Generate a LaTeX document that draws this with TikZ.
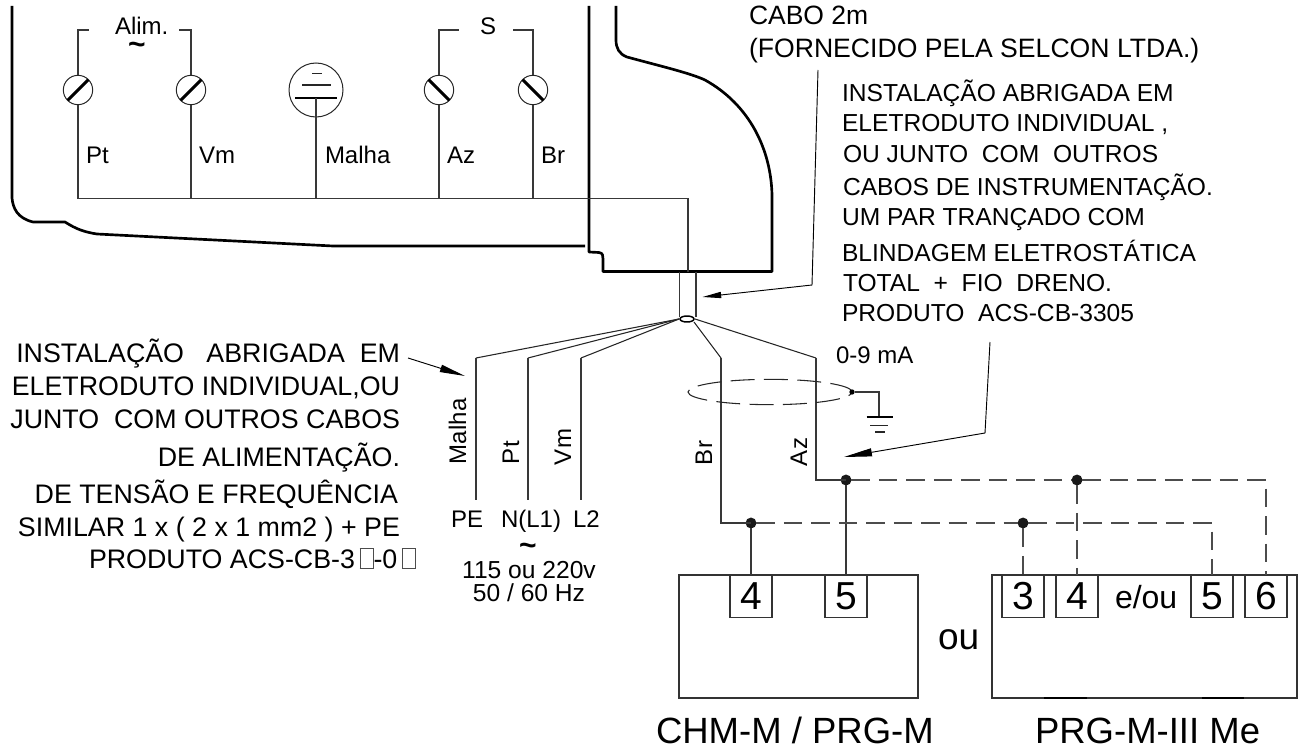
\documentclass[tikz,border=0pt]{standalone}
\usepackage{fontspec}
\setmainfont{Liberation Sans}
\usetikzlibrary{arrows.meta,shapes.geometric}
\newcommand{\fpx}[1]{\fontsize{\fpeval{#1*.75}}{\fpeval{#1*.9}}\selectfont}
\newcommand{\tofu}{{\color{black!70}\fboxsep=0pt\fboxrule=.5pt\fbox{\rule{0pt}{14.5pt}\rule{9.5pt}{0pt}}}}
\tikzset{
  txt/.style={font=\fpx{24},inner sep=0pt,outer sep=0pt,anchor=base west,text=black},
  txr/.style={txt,anchor=base east},
  rot/.style={txt,rotate=90},
  notel/.style={txr,font=\fpx{26.8}},
  noter/.style={txt,font=\fpx{24.6}},
  tild/.style={font=\fpx{30}\bfseries,inner sep=0pt,outer sep=0pt},
  wire/.style={draw=black!78,line width=1.05pt},
  thin wire/.style={draw=black!85,line width=.8pt},
  thick body/.style={draw=black,line width=2pt,line join=round},
  dash wire/.style={draw=black!70,line width=.95pt,dash pattern=on 13.9pt off 6.7pt},
  screw/.style={circle,draw=black!85,line width=.75pt,minimum size=22pt,inner sep=0pt,outer sep=0pt},
  slash/.style={draw=black,line width=2.2pt},
  dot/.style={circle,fill=black!90,minimum size=8.2pt,inner sep=0pt,outer sep=0pt},
  term/.style={draw=black!80,line width=.9pt,fill=white,minimum width=31.5pt,minimum height=32pt,inner sep=0pt,outer sep=0pt,font=\fpx{39}},
  unit/.style={draw=black!80,line width=.9pt,inner sep=0pt,outer sep=0pt},
  lead/.style={draw=black,line width=.7pt},
}
\begin{document}
\begin{tikzpicture}[x=.75pt,y=-.75pt]
\useasboundingbox (0,0) rectangle (1299,749);
% body outline
\draw[thick body] (12,6) -- (12,198) .. controls (13,208) and (17,218) .. (33,222) -- (65,222) .. controls (76,229) and (84,232) .. (97,234) -- (333,246) -- (585,246);
\draw[thick body] (589,6) -- (589,252) -- (599,252.5) .. controls (603,253) and (603,256) .. (603,259) -- (603,271.5) -- (772,271.5) -- (772,195)
 .. controls (771,150) and (750,105) .. (705,80) .. controls (690,73) and (660,66) .. (627,57) .. controls (619,54) and (616,48) .. (616,40) -- (616,6);
% screws
\node[screw] (sPt) at (78,90) {};
\node[screw] (sVm) at (191,90) {};
\node[screw] (sAz) at (439,90) {};
\node[screw] (sBr) at (533,90) {};
\node[circle,draw=black!85,line width=.75pt,minimum size=40.5pt,inner sep=0pt,outer sep=0pt] (sMa) at (316,90) {};
\draw[slash] (sPt.225) -- (sPt.45);
\draw[slash] (sVm.225) -- (sVm.45);
\draw[slash] (sAz.135) -- (sAz.315);
\draw[slash] (sBr.135) -- (sBr.315);
\coordinate (barL) at (295,98);
\coordinate (barR) at (337,98);
\coordinate (barC) at (316,98);
\coordinate (midL) at (302,85);
\coordinate (midR) at (331,85);
\coordinate (topL) at (312,73.5);
\coordinate (topR) at (322,73.5);
\draw[draw=black,line width=2.2pt] (barL) -- (barR);
\draw[thin wire] (midL) -- (midR);
\draw[thin wire] (topL) -- (topR);
% rail
\coordinate (rPt) at (78,198.5);
\coordinate (rVm) at (191,198.5);
\coordinate (rMa) at (316,198.5);
\coordinate (rAz) at (439,198.5);
\coordinate (rBr) at (533,198.5);
\coordinate (rEnd) at (688,198.5);
\coordinate (rDown) at (688,271.5);
\draw[wire] (sPt.south) -- (rPt) -- (rEnd) -- (rDown);
\draw[wire] (sVm.south) -- (rVm);
\draw[wire] (barC) -- (rMa);
\draw[wire] (sAz.south) -- (rAz);
\draw[wire] (sBr.south) -- (rBr);
% brackets
\coordinate (b1) at (89,30);\coordinate (b1c) at (78,30);
\coordinate (b2) at (179,30);\coordinate (b2c) at (191,30);
\coordinate (b3) at (459,30);\coordinate (b3c) at (439,30);
\coordinate (b4) at (513,30);\coordinate (b4c) at (533,30);
\draw[wire] (sPt.north) -- (b1c) -- (b1);
\draw[wire] (sVm.north) -- (b2c) -- (b2);
\draw[wire] (sAz.north) -- (b3c) -- (b3);
\draw[wire] (sBr.north) -- (b4c) -- (b4);
% top labels
\node[txt] (lAlim) at (115,35) {Alim.};
\node[tild] (lTil1) at (137,48.5) {\textasciitilde};
\node[txt] (lS) at (480,35) {S};
\node[txt] (lPt) at (86,163) {Pt};
\node[txt] (lVm) at (199,163) {Vm};
\node[txt] (lMa) at (325,163) {Malha};
\node[txt] (lAz) at (447,163) {Az};
\node[txt] (lBr) at (541,163) {Br};
% cable
\coordinate (c1t) at (679.5,271.5);\coordinate (c1b) at (679.5,317);
\coordinate (c2t) at (696,271.5);\coordinate (c2b) at (696,317);
\draw[wire] (c1t) -- (c1b);
\draw[wire] (c2t) -- (c2b);
\node[ellipse,draw=black,line width=1.1pt,minimum width=10.5pt,minimum height=4.5pt,inner sep=0pt,outer sep=0pt] at (687,319) (knot) {};
% fan out
\coordinate (kL) at (679,319);
\coordinate (kR) at (695,319);
\coordinate (kB) at (694,322);
\coordinate (m1) at (476,358);\coordinate (m1b) at (476,500);
\coordinate (m2) at (528,358);\coordinate (m2b) at (528,500);
\coordinate (m3) at (581,358);\coordinate (m3b) at (581,500);
\coordinate (brT) at (721,358);\coordinate (brC) at (721,523);
\coordinate (azT) at (816,358);\coordinate (azC) at (816,480);
\draw[thin wire] (kL) -- (m1); \draw[wire] (m1) -- (m1b);
\draw[thin wire] (kL) -- (m2); \draw[wire] (m2) -- (m2b);
\draw[thin wire] (kL) -- (m3); \draw[wire] (m3) -- (m3b);
% junctions and units
\node[unit,minimum width=179.25pt,minimum height=92.25pt] (unitA) at (798.5,636.5) {};
\node[unit,minimum width=228.75pt,minimum height=92.25pt] (unitB) at (1144.5,636.5) {};
\node[term] (tA4) at (751,596.5) {4};
\node[term] (tA5) at (846,596.5) {5};
\node[term] (tB3) at (1023,596.5) {3};
\node[term] (tB4) at (1077,596.5) {4};
\node[term] (tB5) at (1212,596.5) {5};
\node[term] (tB6) at (1266,596.5) {6};
\node[dot] (jA4) at (751,523) {};
\node[dot] (jA5) at (846,480) {};
\node[dot] (jB3) at (1023,523) {};
\node[dot] (jB4) at (1077,480) {};
\coordinate (d5) at (1212,523);
\coordinate (d6) at (1266,480);
\draw[thin wire] (kB) -- (brT); \draw[wire] (brT) -- (brC) -- (jA4.center);
\draw[thin wire] (kR) -- (azT); \draw[wire] (azT) -- (azC) -- (jA5.center);
\draw[wire] (jA4) -- (tA4.north);
\draw[wire] (jA5) -- (tA5.north);
\draw[dash wire] (jA4) -- (jB3) -- (d5) -- (tB5.north);
\draw[dash wire] (jA5) -- (jB4) -- (d6) -- (tB6.north);
\draw[dash wire] (jB3) -- (tB3.north);
\draw[dash wire] (jB4) -- (tB4.north);
\coordinate (uB1) at (1044,698);\coordinate (uB2) at (1087,698);
\coordinate (uB3) at (1202,698);\coordinate (uB4) at (1244,698);
\draw[draw=black,line width=1.1pt] (uB1) -- (uB2);
\draw[draw=black,line width=1.1pt] (uB3) -- (uB4);
% shield
\node[ellipse,draw=black!85,line width=.8pt,dash pattern=on 18pt off 7pt,minimum width=123pt,minimum height=19pt,inner sep=0pt,outer sep=0pt] (shield) at (770,392) {};
\node[circle,fill=black,minimum size=4pt,inner sep=0pt] (shDot) at (852,392) {};
\coordinate (gC) at (879,392);
\coordinate (gT) at (879,417);
\draw[wire] (shDot) -- (gC) -- (gT);
\coordinate (g1L) at (866.5,417);\coordinate (g1R) at (893,417);
\coordinate (g2L) at (870,425.5);\coordinate (g2R) at (888,425.5);
\coordinate (g3L) at (875,432);\coordinate (g3R) at (885,432);
\draw[draw=black,line width=1.5pt] (g1L) -- (g1R);
\draw[thin wire] (g2L) -- (g2R);
\draw[thin wire] (g3L) -- (g3R);
% rotated labels
\node[rot] (vMa) at (466,464) {Malha};
\node[rot] (vPt) at (519,464) {Pt};
\node[rot] (vVm) at (571,465) {Vm};
\node[rot] (vBr) at (712,465) {Br};
\node[rot] (vAz) at (807,466) {Az};
% mains labels
\node[txt] (lPE) at (451,527) {PE};
\node[txt] (lN) at (501,527) {N(L1)};
\node[txt] (lL2) at (573,527) {L2};
\node[tild] (lTil2) at (528,549) {\textasciitilde};
\node[txt,anchor=base,font=\fpx{24.6}] (l115) at (529,578) {115 ou 220v};
\node[txt,anchor=base,font=\fpx{24.6}] (l50) at (529,601) {50 / 60 Hz};
% right notes
\node[txt,font=\fpx{26.5}] (n1) at (749,25) {CABO 2m};
\node[txt,font=\fpx{26.6}] (n2) at (749,58) {(FORNECIDO PELA SELCON LTDA.)};
\node[noter] (r1) at (842,101) {INSTALAÇÃO ABRIGADA EM};
\node[noter] (r2) at (842,132) {ELETRODUTO INDIVIDUAL ,};
\node[noter] (r3) at (843,162) {OU JUNTO\ \ COM\ \ OUTROS};
\node[noter] (r4) at (843,195) {CABOS DE INSTRUMENTAÇÃO.};
\node[noter] (r5) at (842,225) {UM PAR TRANÇADO COM};
\node[noter] (r6) at (842,261) {BLINDAGEM ELETROSTÁTICA};
\node[noter] (r7) at (843,291) {TOTAL\ \ +\ \ FIO\ \ DRENO.};
\node[noter] (r8) at (842,321) {PRODUTO\ \ ACS-CB-3305};
\node[txt] (l09) at (836,363) {0-9 mA};
% left notes
\node[notel] (p1) at (400,362) {INSTALAÇÃO\ \ \ ABRIGADA\ \ EM};
\node[notel] (p2) at (400,395) {ELETRODUTO INDIVIDUAL,OU};
\node[notel] (p3) at (400,428) {JUNTO\ \ COM OUTROS CABOS};
\node[notel] (p4) at (400,466) {DE ALIMENTAÇÃO.};
\node[notel] (p5) at (398,503) {DE TENSÃO E FREQUÊNCIA};
\node[notel] (p6) at (400,536) {SIMILAR 1 x ( 2 x 1 mm2 ) + PE};
\node[txt,font=\fpx{26.8}] (p7) at (89,568) {PRODUTO ACS-CB-3\,\tofu-0\,\tofu};
% leaders
\coordinate (a1s) at (818,70);\coordinate (a1m) at (812,285);\coordinate (a1e) at (702.5,297);
\draw[lead,-{Triangle[length=14pt,width=4.6pt]}] (a1s) -- (a1m) -- (a1e);
\coordinate (a2s) at (990,342);\coordinate (a2m) at (985,433);\coordinate (a2e) at (844,457);
\draw[lead,-{Triangle[length=21pt,width=6pt]}] (a2s) -- (a2m) -- (a2e);
\coordinate (a3s) at (408,358);\coordinate (a3e) at (465,376);
\draw[lead,-{Triangle[length=19pt,width=5.5pt]}] (a3s) -- (a3e);
% bottom labels
\node[txt,font=\fpx{32}] (leou) at (1115,608) {e/ou};
\node[txt,font=\fpx{37}] (lou) at (938,649) {ou};
\node[txt,font=\fpx{36.5}] (lCHM) at (656,743) {CHM-M / PRG-M};
\node[txt,font=\fpx{36.5}] (lPRG) at (1035,743) {PRG-M-III Me};
\end{tikzpicture}
\end{document}
